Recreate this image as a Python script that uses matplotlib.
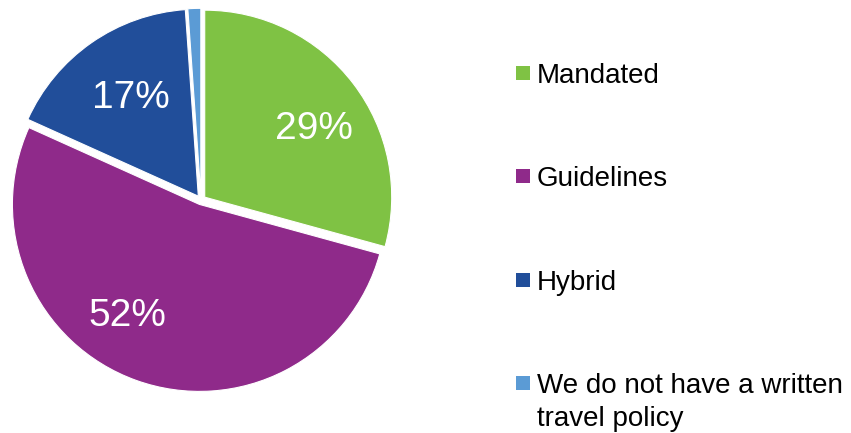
import matplotlib.pyplot as plt
from matplotlib.patches import Rectangle

plt.rcParams['font.family'] = ['Liberation Sans', 'DejaVu Sans']

labels = ["Mandated", "Guidelines", "Hybrid", "We do not have a written\ntravel policy"]
shares = [29, 52, 17, 1.1]
colors = ["#7FC244", "#8F2A8A", "#214E9A", "#5B9BD5"]

W, H = 851, 433
fig = plt.figure(figsize=(W / 100, H / 100), dpi=100)

# pie axes: centre ~(201, 200) px from top-left, radius ~187 px
L = 1.05
r_ax = 187 * L
cx, cy = 201, H - 200
ax = fig.add_axes([(cx - r_ax) / W, (cy - r_ax) / H, 2 * r_ax / W, 2 * r_ax / H])

wedges, texts, autotexts = ax.pie(
    shares,
    colors=colors,
    startangle=90,
    counterclock=False,
    explode=[0.025] * len(shares),
    autopct=lambda p: "%d%%" % round(p) if p > 5 else "",
    pctdistance=0.7,
    wedgeprops=dict(edgecolor="white", linewidth=0.8),
    textprops=dict(color="white", fontsize=28),
)
ax.set_xlim(-L, L)
ax.set_ylim(-L, L)
ax.set_aspect("equal")
ax.axis("off")

# nudge the labels to where Excel put them
nudges = [(0.03, -0.06), (-0.15, 0.06), (0.04, -0.05)]
for t, (dx, dy) in zip(autotexts, nudges):
    x, y = t.get_position()
    t.set_position((x + dx, y + dy))

# legend drawn by hand
sq = 14
leg_x = 516
baselines = [83, 186.5, 290, 393]
for lab, col, base in zip(labels, colors, baselines):
    top = base - 17
    fig.patches.append(Rectangle((leg_x / W, (H - top - sq) / H), sq / W, sq / H,
                                 transform=fig.transFigure, facecolor=col,
                                 edgecolor="none"))
    fig.text(537 / W, (H - base) / H, lab.split("\n")[0], fontsize=20,
             color="black", va="baseline", ha="left")
    for k, extra in enumerate(lab.split("\n")[1:], start=1):
        fig.text(537 / W, (H - base - 33 * k) / H, extra, fontsize=20,
                 color="black", va="baseline", ha="left")

fig.savefig("out.png", dpi=100)
